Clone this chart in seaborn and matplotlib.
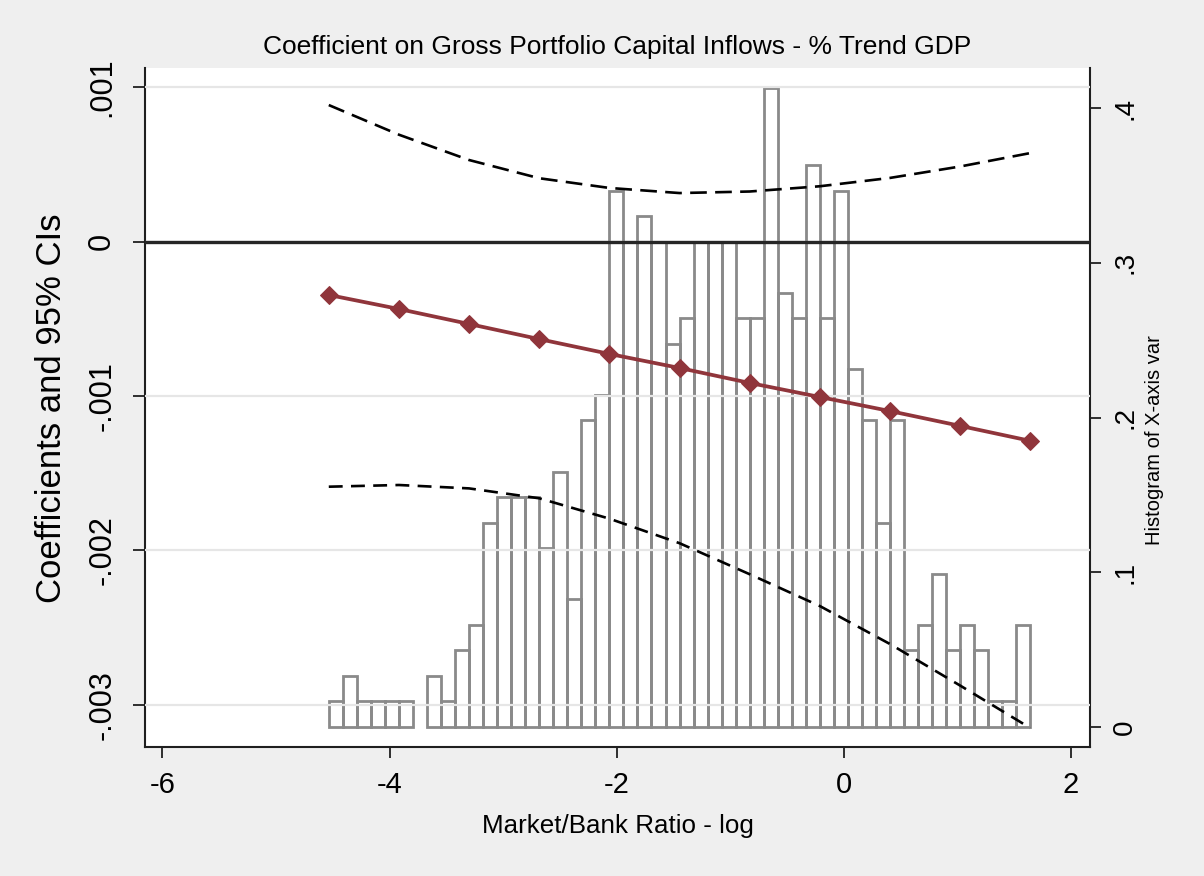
import numpy as np
import pandas as pd
import matplotlib
matplotlib.use("Agg")
import matplotlib.pyplot as plt
import seaborn as sns

# ---------------- data ----------------
x_points = [-4.535, -3.917, -3.299, -2.681, -2.063, -1.445, -0.827, -0.209, 0.409, 1.027, 1.645]
coef = [-0.000345, -0.000436, -0.000533, -0.000631, -0.000727, -0.000818,
        -0.000915, -0.001006, -0.001097, -0.001193, -0.001290]
ci_upper = [0.000885, 0.000693, 0.000529, 0.000411, 0.000348, 0.000315,
            0.000325, 0.000359, 0.000413, 0.000487, 0.000574]
ci_lower = [-0.001587, -0.001576, -0.001598, -0.001662, -0.001794, -0.001953,
            -0.002154, -0.002360, -0.002606, -0.002875, -0.003150]

hist_range = (-4.535, 1.645)
hist_nbins = 50
hist_counts = [1, 2, 1, 1, 1, 1, 0, 2, 1, 3,
               4, 8, 9, 9, 9, 7, 10, 5, 12, 13,
               21, 19, 20, 19, 15, 16, 19, 19, 19, 16,
               16, 25, 17, 16, 22, 16, 21, 14, 12, 8,
               12, 3, 4, 6, 3, 4, 3, 1, 1, 4]

left_ticks = [0.001, 0.0, -0.001, -0.002, -0.003]
left_ticklabels = [".001", "0", "-.001", "-.002", "-.003"]
right_ticks = [0.4, 0.3, 0.2, 0.1, 0.0]
right_ticklabels = [".4", ".3", ".2", ".1", "0"]
x_ticks = [-6, -4, -2, 0, 2]
x_ticklabels = ["-6", "-4", "-2", "0", "2"]

title = "Coefficient on Gross Portfolio Capital Inflows - % Trend GDP"
xlabel = "Market/Bank Ratio - log"
ylabel_left = "Coefficients and 95% CIs"
ylabel_right = "Histogram of X-axis var"

# ---------------- style ----------------
sns.set_style("white")
plt.rcParams["font.family"] = ["Liberation Sans", "DejaVu Sans"]
plt.rcParams["lines.scale_dashes"] = False
plt.rcParams["text.color"] = "black"
plt.rcParams["axes.labelcolor"] = "black"
plt.rcParams["xtick.color"] = "black"
plt.rcParams["ytick.color"] = "black"

BG = "#efefef"
DARK = "#1f1f1f"
RED = "#90353b"
BARC = "#8a8a8a"

fig = plt.figure(figsize=(12.04, 8.76), dpi=100, facecolor=BG)
W, H = 1204, 876
L, R, T, B = 145, 1090, 68, 747
ax = fig.add_axes([L / W, 1 - B / H, (R - L) / W, (B - T) / H])
ax.set_facecolor("white")
ax2 = ax.twinx()

# histogram (right axis)
bin_w = (hist_range[1] - hist_range[0]) / hist_nbins
centers = [hist_range[0] + (i + 0.5) * bin_w for i in range(hist_nbins)]
hdf = pd.DataFrame({"x": centers, "w": hist_counts})
sns.histplot(data=hdf, x="x", weights="w", bins=hist_nbins, binrange=hist_range,
             stat="density", fill=False, element="bars", color=BARC,
             edgecolor=BARC, linewidth=2.0, ax=ax)
for p in ax.patches:
    if p.get_height() == 0:
        p.set_visible(False)

# coefficient lines (left axis)
df = pd.DataFrame({"x": x_points, "coef": coef, "up": ci_upper, "lo": ci_lower})
ax2.axhline(0, color="#262626", linewidth=2.4, zorder=3)
sns.lineplot(data=df, x="x", y="up", ax=ax2, color="black", linewidth=1.9,
             linestyle=(0, (12, 6)), zorder=4)
sns.lineplot(data=df, x="x", y="lo", ax=ax2, color="black", linewidth=1.9,
             linestyle=(0, (10, 6)), zorder=4)
sns.lineplot(data=df, x="x", y="coef", ax=ax2, color=RED, linewidth=2.7,
             marker="D", markersize=9.5, markeredgecolor=RED, markerfacecolor=RED, zorder=5)

# ---- axis formatting ----
ax.set_xlim(-6.154, 2.171)
ax.set_ylim(-0.01293, 0.426)
ax.yaxis.tick_right()
ax.yaxis.set_label_position("right")
ax.set_yticks(right_ticks)
ax.set_yticklabels(right_ticklabels, rotation=90, va="center", fontsize=20)
ax.set_xticks(x_ticks)
ax.set_xticklabels(x_ticklabels, fontsize=21)
ax.set_xlabel(xlabel, fontsize=18.7)
ax.set_ylabel(ylabel_right, fontsize=14.5, rotation=90, va="center")
ax.yaxis.set_label_coords((1154 - L) / (R - L), (B - 440) / (B - T))
ax.xaxis.set_label_coords(0.5, -(826 - B) / (B - T))
ax.xaxis.label.set_va("center")
for s in ["left", "right", "bottom"]:
    ax.spines[s].set_color(DARK)
    ax.spines[s].set_linewidth(1.5)
ax.spines["top"].set_visible(False)
ax.tick_params(axis="x", direction="out", length=8, width=1.3, color=DARK, pad=9, bottom=True)
ax.tick_params(axis="y", direction="out", length=8, width=1.3, color=DARK, pad=8,
               right=True, left=False, labelright=True, labelleft=False)

ax2.yaxis.tick_left()
ax2.yaxis.set_label_position("left")
for s in ax2.spines.values():
    s.set_visible(False)
ax2.set_ylim(-0.003273, 0.001125)
ax2.set_yticks(left_ticks)
ax2.set_yticklabels(left_ticklabels, rotation=90, va="center", fontsize=22)
ax2.tick_params(axis="y", direction="out", length=9, width=1.3, color=DARK, pad=11,
                left=True, right=False, labelleft=True, labelright=False)
ax2.grid(axis="y", color="#e6e6e6", linewidth=1.6)
ax2.grid(axis="x", visible=False)
ax2.set_ylabel(ylabel_left, fontsize=25, va="center")
ax2.yaxis.set_label_coords((52 - L) / (R - L), (B - 408) / (B - T))
ax2.set_xlabel("")
ax.set_zorder(1)
ax2.set_zorder(2)
ax.patch.set_visible(True)

fig.text((L + R) / 2 / W, 1 - 47 / H, title, ha="center", va="center", fontsize=19)

fig.savefig("out.png", dpi=100, facecolor=BG)
